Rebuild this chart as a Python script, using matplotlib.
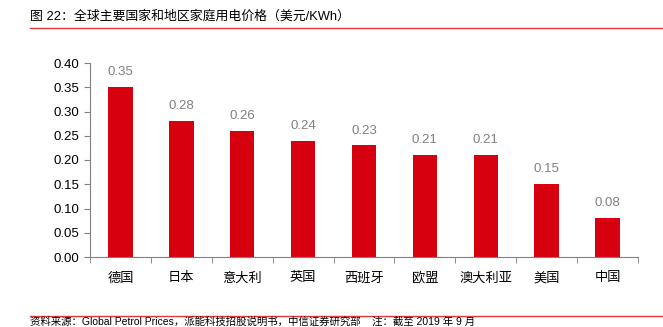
import matplotlib
matplotlib.use("Agg")
import matplotlib.pyplot as plt
from matplotlib.lines import Line2D
import numpy as np

plt.rcParams['font.family'] = ['Liberation Sans', 'Noto Sans CJK SC', 'DejaVu Sans']

categories = ["德国", "日本", "意大利", "英国", "西班牙", "欧盟", "澳大利亚", "美国", "中国"]
values = [0.35, 0.28, 0.26, 0.24, 0.23, 0.21, 0.21, 0.15, 0.08]
yticks = [0.00, 0.05, 0.10, 0.15, 0.20, 0.25, 0.30, 0.35, 0.40]
title = "图 22：全球主要国家和地区家庭用电价格（美元/KWh）"
source = "资料来源：Global Petrol Prices，派能科技招股说明书，中信证券研究部    注：截至 2019 年 9 月"

W, H = 663, 327
fig = plt.figure(figsize=(W / 100, H / 100), dpi=100)
ax = fig.add_axes([90 / W, 1 - 257 / H, (638 - 90) / W, (257 - 63) / H])

x = np.arange(len(categories))
bars = ax.bar(x, values, width=0.4, color="#D7000F", zorder=2)

for xi, v in zip(x, values):
    ax.annotate(f"{v:.2f}", (xi, v), xytext=(0, 8.5), textcoords="offset points",
                ha="center", va="baseline", fontsize=9.5, color="#808080")

ax.set_xlim(-0.5, len(categories) - 0.5)
ax.set_ylim(0, 0.40)
ax.set_yticks(yticks)
ax.set_yticklabels([f"{t:.2f}" for t in yticks], fontsize=9.5, color="#000000")
ax.set_xticks(x)
ax.set_xticklabels(categories, fontsize=9.5)
ax.set_xticks(np.arange(len(categories) + 1) - 0.5, minor=True)
ax.tick_params(axis="x", which="major", length=0, pad=11)
ax.tick_params(axis="x", which="minor", length=4, direction="out", color="#808080")
ax.tick_params(axis="y", length=4, direction="out", color="#808080", pad=4)

for s in ["top", "right"]:
    ax.spines[s].set_visible(False)
for s in ["left", "bottom"]:
    ax.spines[s].set_color("#808080")
    ax.spines[s].set_linewidth(0.8)

fig.text(30 / W, 1 - 16 / H, title, fontsize=9.3, ha="left", va="center", color="#000000")
fig.add_artist(Line2D([30 / W, 1.0], [1 - 27.5 / H] * 2, color="#E0393E", lw=1.0))
fig.add_artist(Line2D([30 / W, 1.0], [1 - 315.5 / H] * 2, color="#E0393E", lw=1.0))
fig.text(30 / W, 1 - 326.5 / H, source, fontsize=7.5, ha="left", va="bottom", color="#000000")

fig.savefig("out.png", dpi=100)
